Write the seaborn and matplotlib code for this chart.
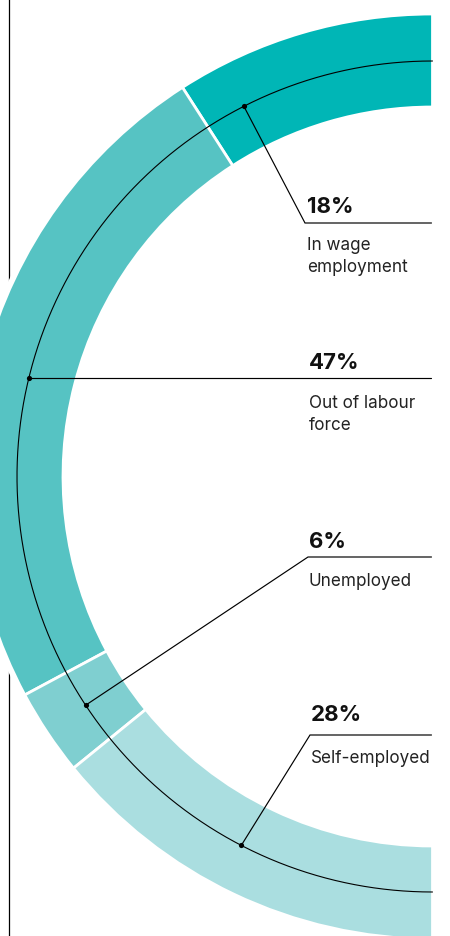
import numpy as np
import pandas as pd
import matplotlib
matplotlib.use("Agg")
import matplotlib.pyplot as plt
from matplotlib.patches import Circle
import seaborn as sns

# ---- data ----
categories = ["In wage\nemployment", "Out of labour\nforce", "Unemployed", "Self-employed"]
shares = [18, 47, 6, 28]
pct_labels = ["18%", "47%", "6%", "28%"]
colors = ["#00B6B6", "#56C3C3", "#7FCFD0", "#AADEE0"]

# ---- layout (pixel coordinates, y measured from top) ----
W, H = 450, 937
cx, cy = 432.5, 477.5
r_out, r_in, r_mid = 462.5, 369.5, 415.5
anchor_deg = [27.0, 76.3, 123.4, 152.6]      # degrees ccw from top
elbow_x = [305, None, 308, 310]
hline_y = [224, 379, 558, 736]
pct_y = [213, 369, 548, 721]
lab_y = [250, 408, 586, 763]
text_x = [307, 309, 309, 311]
line_gap = 22

sns.set_theme(style="white")
plt.rcParams["font.family"] = ["Inter", "DejaVu Sans"]

fig = plt.figure(figsize=(W / 100, H / 100), dpi=100)
ax = fig.add_axes([0, 0, 1, 1])

def Y(y):
    return H - y

# left vertical rule (interrupted by white halo around ring)
ax.plot([9, 9], [Y(0), Y(H)], color="black", lw=0.9, zorder=0)
ax.add_patch(Circle((cx, Y(cy)), 467, facecolor="white", edgecolor="none", zorder=0.5))

# half donut: invisible balancing wedge makes the four shares span 180 degrees
total = sum(shares)
wedges, _ = ax.pie(shares + [total], radius=r_out, center=(cx, Y(cy)),
                   startangle=90, counterclock=True,
                   colors=colors + ["white"],
                   wedgeprops=dict(width=r_out - r_in, edgecolor="white", linewidth=2))
wedges[-1].set_visible(False)
for w in wedges:
    w.set_zorder(1)

# thin guide arc
th = np.radians(np.linspace(90, 270, 400))
ax.plot(cx + r_mid * np.cos(th), Y(cy) + r_mid * np.sin(th), color="black", lw=0.8, zorder=2)

# anchor dots and leaders
ang = np.radians(90 + np.array(anchor_deg))
dots = pd.DataFrame({"x": cx + r_mid * np.cos(ang), "y": Y(cy) + r_mid * np.sin(ang)})
for i in range(len(shares)):
    dx, dy = dots.x[i], dots.y[i]
    if elbow_x[i] is None:
        xs, ys = [dx, cx - 1], [dy, dy]
    else:
        xs = [dx, elbow_x[i], cx - 1]
        ys = [dy, Y(hline_y[i]), Y(hline_y[i])]
    ax.plot(xs, ys, color="black", lw=0.85, zorder=3, solid_joinstyle="miter")
sns.scatterplot(data=dots, x="x", y="y", color="black", s=14, linewidth=0, zorder=4, ax=ax)

# texts
for i in range(len(shares)):
    ax.text(text_x[i], Y(pct_y[i]), pct_labels[i], fontsize=16, fontweight="bold",
            color="#111111", ha="left", va="baseline", zorder=5)
    for j, line in enumerate(categories[i].split("\n")):
        ax.text(text_x[i], Y(lab_y[i] + j * line_gap), line, fontsize=12.3,
                color="#222222", ha="left", va="baseline", zorder=5)

ax.set_xlim(0, W)
ax.set_ylim(0, H)
ax.set_aspect("equal")
ax.axis("off")
fig.savefig("out.png", dpi=100, facecolor="white")
